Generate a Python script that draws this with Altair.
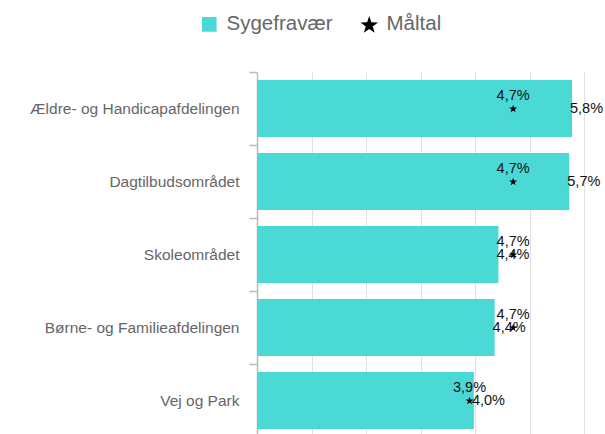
import math
import altair as alt
import pandas as pd

kategorier = [
    "Ældre- og Handicapafdelingen",
    "Dagtilbudsområdet",
    "Skoleområdet",
    "Børne- og Familieafdelingen",
    "Vej og Park",
]
sygefravaer = [5.78, 5.73, 4.43, 4.36, 3.98]
maaltal = [4.7, 4.7, 4.7, 4.7, 3.9]
serier = ["Sygefravær", "Måltal"]
farver = ["#4ad9d5", "#000000"]


# five-pointed star glyph (symbol shape, unit coordinates)
def star_path(r_out=1.25, r_in=0.5):
    pts = []
    for k in range(10):
        r = r_out if k % 2 == 0 else r_in
        a = math.radians(-90 + 36 * k)
        pts.append(f"{r * math.cos(a):.3f},{r * math.sin(a) + 0.12:.3f}")
    return "M" + "L".join(pts) + "Z"


former = ["square", star_path()]

df_bar = pd.DataFrame({"kategori": kategorier, "vaerdi": sygefravaer, "serie": serier[0]})
df_pt = pd.DataFrame({"kategori": kategorier, "vaerdi": maaltal, "serie": serier[1]})

FONT = "Liberation Sans"

y_enc = alt.Y(
    "kategori:N",
    sort=kategorier,
    title=None,
    scale=alt.Scale(paddingInner=0, paddingOuter=0),
    axis=alt.Axis(
        bandPosition=0,
        labelFontSize=15.5,
        labelColor="#666666",
        labelFont=FONT,
        labelPadding=10,
        tickSize=8,
        tickColor="#bbbbbb",
        tickWidth=1.5,
        domainColor="#bbbbbb",
        domainWidth=1.5,
        labelLimit=400,
    ),
)
x_enc = alt.X(
    "vaerdi:Q",
    title=None,
    scale=alt.Scale(domain=[0, 6], nice=False),
    axis=alt.Axis(
        values=[0, 1, 2, 3, 4, 5, 6],
        labels=False,
        ticks=False,
        domain=False,
        grid=True,
        gridColor="#e0e0e0",
        gridWidth=1,
    ),
)
color_enc = alt.Color(
    "serie:N",
    title=None,
    scale=alt.Scale(domain=serier, range=farver),
    legend=alt.Legend(
        orient="none",
        direction="horizontal",
        legendX=-58,
        legendY=-58,
        labelFontSize=20.5,
        labelColor="#666666",
        labelFont=FONT,
        symbolSize=215,
        symbolStrokeWidth=0,
        columnPadding=26,
        labelOffset=7,
    ),
)
shape_enc = alt.Shape(
    "serie:N",
    title=None,
    scale=alt.Scale(domain=serier, range=former),
)

y_plain = alt.Y("kategori:N", sort=kategorier)

bars = alt.Chart(df_bar).mark_bar(size=57).encode(y=y_enc, x=x_enc, color=color_enc)

bar_labels = (
    alt.Chart(df_bar)
    .transform_calculate(lbl="replace(format(datum.vaerdi, '.1f'), '.', ',') + '%'")
    .mark_text(align="left", baseline="middle", dx=-2, fontSize=14.5, font=FONT, color="#111111")
    .encode(y=y_plain, x="vaerdi:Q", text="lbl:N")
)

stars = (
    alt.Chart(df_pt)
    .mark_point(filled=True, size=45, opacity=1)
    .encode(y=y_plain, x="vaerdi:Q", color=color_enc, shape=shape_enc)
)

star_labels = (
    alt.Chart(df_pt)
    .transform_calculate(lbl="replace(format(datum.vaerdi, '.1f'), '.', ',') + '%'")
    .mark_text(align="center", baseline="middle", dy=-12.5, fontSize=14.5, font=FONT, color="#111111")
    .encode(y=y_plain, x="vaerdi:Q", text="lbl:N")
)

chart = (
    alt.layer(bars, stars, bar_labels, star_labels)
    .properties(
        width=327,
        height=365,
        autosize=alt.AutoSizeParams(type="none"),
        padding={"left": 257, "top": 72, "right": 21, "bottom": 0},
    )
    .configure_view(stroke=None)
)

chart.save("out.html", embed_options={"renderer": "svg", "actions": False})

# the plot runs slightly past the window bottom, as in the reference: hide scrollbars
with open("out.html", encoding="utf-8") as f:
    html = f.read()
html = html.replace("<head>", "<head><style>html,body{overflow:hidden;margin:0}</style>", 1)
with open("out.html", "w", encoding="utf-8") as f:
    f.write(html)
